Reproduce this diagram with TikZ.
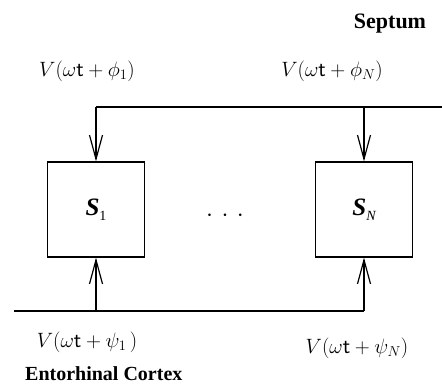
\documentclass[tikz,border=0pt]{standalone}
\usepackage{fontspec}
\setmainfont{Liberation Serif}
\usetikzlibrary{arrows.meta}
\begin{document}
\begin{tikzpicture}[x=1pt,y=-1pt,
  blk/.style={draw, line width=1.2pt, minimum width=97pt, minimum height=95pt, inner sep=0pt},
  wire/.style={line width=1.2pt},
  arr/.style={wire, -{Straight Barb[length=24pt,width=13pt,line width=1.2pt]}},
  lbl/.style={font=\fontsize{22}{24}\selectfont, inner sep=0pt},
  ttl/.style={font=\fontsize{21}{25}\selectfont\bfseries, inner sep=0pt},
  sym/.style={font=\fontsize{25}{27}\selectfont\bfseries\itshape, inner sep=0pt}]
\useasboundingbox (0,0) rectangle (442,386);
\node[blk] (s1) at (96,209.5) {};
\node[blk] (sn) at (364,209.5) {};
\node[sym] (s1t) at (s1.center) {S\raisebox{-0.2em}{\fontsize{14}{14}\selectfont\mdseries\upshape 1}};
\node[sym] (snt) at (sn.center) {S\raisebox{-0.2em}{\fontsize{14}{14}\selectfont\mdseries N}};
\node[inner sep=0pt, font=\fontsize{34}{34}\selectfont] (dots) at (225,216) {$\cdot\hspace{3pt}\cdot\hspace{3pt}\cdot$};
\coordinate (tr) at (442,107);
\coordinate (bl) at (14,311);
\draw[wire] (tr) -- (s1.north |- tr);
\draw[arr] (s1.north |- tr) -- (s1.north);
\draw[arr] (sn.north |- tr) -- (sn.north);
\draw[wire] (bl) -- (sn.south |- bl);
\draw[arr] (s1.south |- bl) -- (s1.south);
\draw[arr] (sn.south |- bl) -- (sn.south);
\node[lbl] (p1) at (87,71) {$V(\omega \mathsf{t}+\phi_{1})$};
\node[lbl] (pn) at (332,71) {$V(\omega \mathsf{t}+\phi_{N})$};
\node[lbl] (q1) at (87,342) {$V(\omega \mathsf{t}+\psi_{1}\,)$};
\node[lbl] (qn) at (357,348) {$V(\omega \mathsf{t}+\psi_{N})$};
\node[ttl, font=\fontsize{22}{25}\selectfont\bfseries, anchor=base] (sep) at (390,28) {Septum};
\node[ttl, font=\fontsize{20}{24}\selectfont\bfseries, anchor=base west] (ent) at (25,380) {Entorhinal Cortex};
\end{tikzpicture}
\end{document}
